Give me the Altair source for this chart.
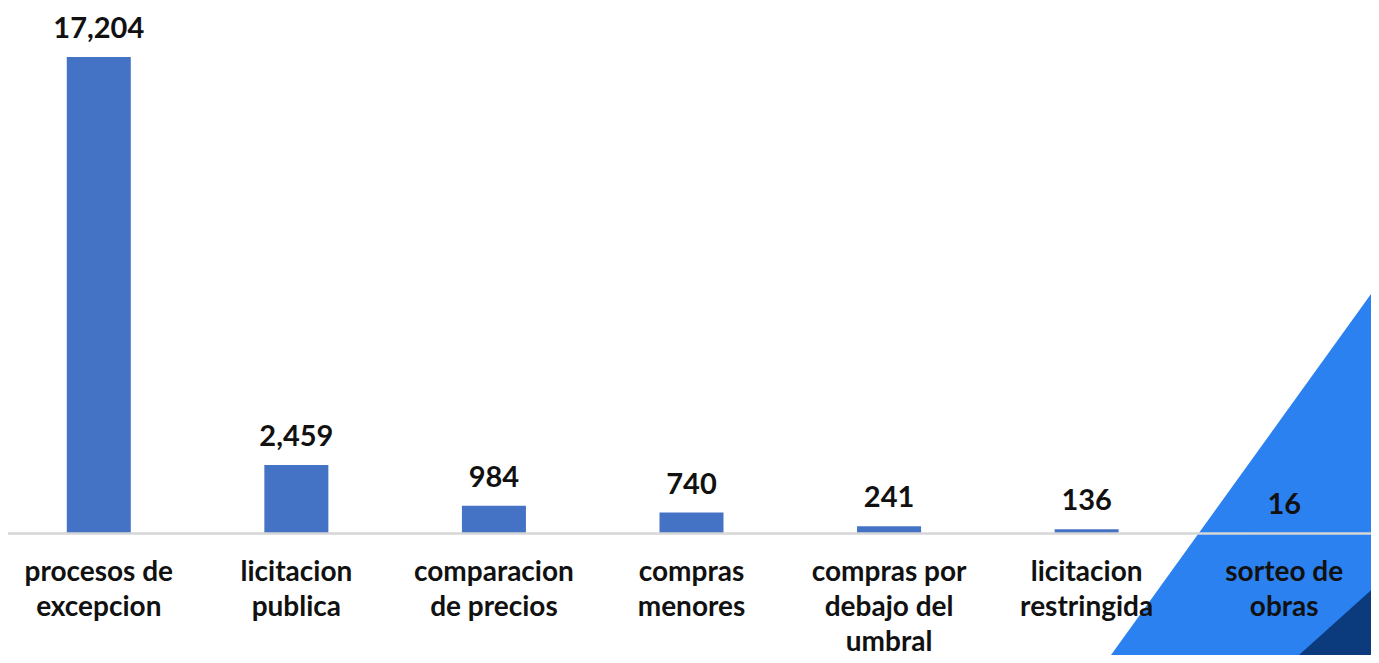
import altair as alt
import pandas as pd

categories = ["procesos de\nexcepcion", "licitacion\npublica", "comparacion\nde precios",
              "compras\nmenores", "compras por\ndebajo del\numbral", "licitacion\nrestringida",
              "sorteo de\nobras"]
values = [17204, 2459, 984, 740, 241, 136, 16]

# decorative corner triangles (chart pixel units, measured from bottom-left)
deco_x = [1103, 1371, 1291, 1371]
deco_y = [0, 372, 0, 72]
deco_part = ["light", "light", "dark", "dark"]

W, H, BOTTOM = 1363, 525, 122
df = pd.DataFrame({"cat": categories, "val": values})
deco = pd.DataFrame({"dx": deco_x, "dy": deco_y, "part": deco_part})

ymax = max(values) * 525 / 476

deco_layer = alt.Chart(deco).mark_area(opacity=1).encode(
    x=alt.X("dx:Q", scale=alt.Scale(domain=[0, W], range=[0, W], nice=False, zero=False), axis=None),
    y=alt.Y("dy:Q", stack=None, scale=alt.Scale(domain=[0, H + BOTTOM], range=[H + BOTTOM, 0], nice=False), axis=None),
    y2=alt.value(H + BOTTOM),
    color=alt.Color("part:N", scale=alt.Scale(domain=["light", "dark"], range=["#2B81F0", "#0B3B7C"]), legend=None),
    order=alt.Order("part:N", sort="descending"),
)

xenc = alt.X("cat:N", sort=None,
             scale=alt.Scale(range=[-8, 1375], paddingInner=0.676, paddingOuter=0.338),
             axis=alt.Axis(title=None, labelAngle=0, ticks=False, domainColor="#D6D6D6", domainWidth=2.5,
                           labelExpr="split(datum.label, '\\n')", labelFont="Lato", labelFontWeight="bold",
                           labelFontSize=28, labelLineHeight=35, labelColor="#111111", labelPadding=25,
                           labelBaseline="top", labelLimit=400, zindex=2))
yenc = alt.Y("val:Q", scale=alt.Scale(domain=[0, ymax], nice=False), axis=None)

bars = alt.Chart(df).mark_bar(color="#4472C4").encode(x=xenc, y=yenc)
texts = alt.Chart(df).mark_text(font="Lato", fontWeight="bold", fontSize=29, baseline="bottom", dy=-13,
                                color="#111111").encode(
    x=alt.X("cat:N", sort=None), y=alt.Y("val:Q"), text=alt.Text("val:Q", format=","))

chart = alt.layer(deco_layer, alt.layer(bars, texts)).resolve_scale(x="independent", y="independent").properties(
    width=W, height=H, padding={"left": 0, "top": 0, "right": 0, "bottom": BOTTOM},
    autosize=alt.AutoSizeParams(type="none"), background="#ffffff"
).configure_view(stroke=None)

chart.save("out.html", embed_options={"renderer": "svg", "actions": False})
